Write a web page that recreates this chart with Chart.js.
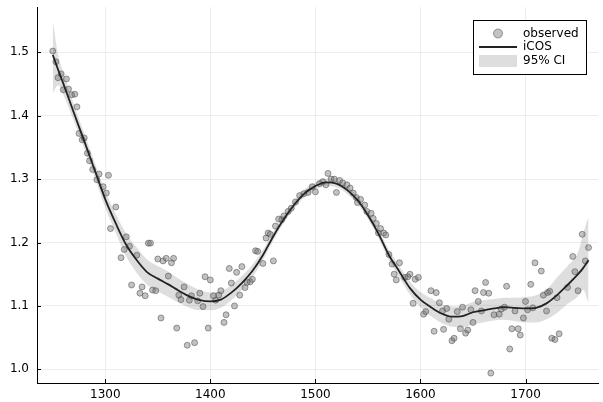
<!DOCTYPE html>
<html>
<head>
<meta charset="utf-8">
<script src="https://cdn.jsdelivr.net/npm/chart.js@4"></script>
<style>
  html, body { margin: 0; padding: 0; background: #fff; }
  #wrap { width: 603px; height: 402px; }
</style>
</head>
<body>
<div id="wrap"><canvas id="fit-chart" width="603" height="402"></canvas></div>
<script>
/*** 資料 ***/
const obsX = [1250,1253,1255,1258,1260,1263,1265,1268,1271,1273,1275,1278,1280,1283,1285,1288,1292,1294,1298,1301,
  1303,1305,1310,1315,1318,1320,1323,1325,1330,1333,1335,1338,1341,1343,1345,1348,1350,1353,1355,1358,
  1360,1363,1365,1368,1370,1372,1375,1378,1380,1382,1385,1388,1390,1393,1395,1398,1400,1403,1405,1408,
  1410,1413,1415,1418,1420,1423,1425,1428,1430,1433,1435,1438,1440,1443,1445,1450,1453,1455,1457,1460,
  1462,1465,1468,1470,1474,1477,1481,1485,1489,1493,1497,1500,1504,1507,1510,1512,1515,1518,1520,1523,
  1526,1530,1533,1536,1539,1540,1543,1547,1549,1553,1555,1558,1560,1562,1565,1567,1570,1573,1575,1577,
  1580,1585,1588,1590,1593,1595,1598,1603,1605,1610,1613,1615,1618,1621,1622,1625,1627,1630,1632,1635,
  1638,1640,1643,1645,1648,1650,1652,1655,1658,1660,1662,1665,1667,1670,1675,1677,1680,1682,1685,1687,
  1690,1693,1695,1698,1700,1702,1705,1707,1709,1715,1717,1720,1721,1723,1725,1728,1730,1732,1740,1745,
  1747,1750,1754,1757,1760];
const obsY = [1.502,1.485,1.460,1.466,1.441,1.458,1.442,1.433,1.434,1.414,1.372,1.362,1.365,1.341,1.329,1.315,1.299,1.308,1.288,1.278,
  1.306,1.222,1.256,1.176,1.189,1.209,1.194,1.133,1.180,1.120,1.130,1.116,1.199,1.199,1.125,1.124,1.174,1.081,1.171,1.175,
  1.147,1.168,1.175,1.065,1.117,1.110,1.130,1.038,1.109,1.116,1.042,1.108,1.120,1.099,1.146,1.065,1.141,1.116,1.109,1.117,
  1.124,1.074,1.086,1.159,1.136,1.100,1.153,1.117,1.162,1.129,1.137,1.138,1.142,1.187,1.186,1.167,1.207,1.215,1.213,1.171,
  1.226,1.237,1.236,1.242,1.249,1.254,1.264,1.274,1.277,1.279,1.288,1.280,1.293,1.296,1.291,1.309,1.300,1.300,1.279,1.298,
  1.294,1.291,1.286,1.278,1.271,1.263,1.268,1.259,1.249,1.246,1.238,1.230,1.215,1.222,1.215,1.212,1.181,1.166,1.150,1.141,
  1.168,1.145,1.146,1.150,1.104,1.142,1.145,1.087,1.091,1.124,1.060,1.121,1.105,1.092,1.063,1.096,1.079,1.045,1.049,1.091,
  1.064,1.098,1.057,1.062,1.094,1.074,1.124,1.107,1.092,1.121,1.137,1.120,0.994,1.086,1.087,1.095,1.098,1.131,1.032,1.064,
  1.092,1.064,1.054,1.081,1.107,1.094,1.134,1.097,1.168,1.155,1.117,1.092,1.121,1.123,1.049,1.047,1.113,1.056,1.129,1.178,
  1.154,1.124,1.213,1.171,1.192];

// iCOS 擬合曲線與 95% 信賴區間
const fitX = [1250,1255,1260,1270,1280,1290,1300,1310,1320,1330,1340,1350,1360,1370,1380,1390,1400,1410,1420,1430,
  1440,1450,1460,1470,1480,1490,1500,1510,1520,1530,1540,1550,1560,1570,1580,1590,1600,1610,1620,1630,
  1640,1650,1660,1670,1680,1690,1700,1710,1720,1730,1740,1750,1755,1760];
const fitY = [1.496,1.473,1.451,1.405,1.360,1.314,1.268,1.230,1.196,1.172,1.153,1.143,1.134,1.124,1.115,1.109,1.107,1.110,1.121,1.136,
  1.155,1.180,1.210,1.237,1.260,1.278,1.289,1.295,1.293,1.283,1.267,1.243,1.214,1.180,1.154,1.128,1.110,1.098,1.088,1.083,
  1.084,1.090,1.093,1.096,1.098,1.097,1.096,1.097,1.104,1.117,1.133,1.150,1.160,1.172];
const ciLo = [1.435,1.448,1.433,1.392,1.348,1.302,1.255,1.215,1.178,1.152,1.133,1.123,1.114,1.105,1.097,1.093,1.093,1.097,1.109,1.125,
  1.145,1.172,1.203,1.231,1.254,1.272,1.283,1.289,1.287,1.277,1.261,1.237,1.207,1.172,1.145,1.118,1.098,1.084,1.073,1.067,
  1.066,1.071,1.074,1.077,1.078,1.076,1.074,1.074,1.079,1.089,1.103,1.115,1.125,1.104];
const ciHi = [1.551,1.496,1.469,1.418,1.372,1.326,1.281,1.245,1.214,1.192,1.173,1.163,1.154,1.143,1.133,1.125,1.121,1.123,1.133,1.147,
  1.165,1.188,1.217,1.243,1.266,1.284,1.295,1.301,1.299,1.289,1.273,1.249,1.221,1.188,1.163,1.138,1.122,1.112,1.103,1.099,
  1.100,1.106,1.109,1.111,1.113,1.113,1.114,1.117,1.126,1.145,1.163,1.185,1.215,1.241];

const xTicks = [1300, 1400, 1500, 1600, 1700];
const yTicks = [1.0, 1.1, 1.2, 1.3, 1.4, 1.5];

const toPts = (xs, ys) => xs.map((x, i) => ({ x: x, y: ys[i] }));

const BAND = 'rgba(0,0,0,0.13)';
const PT_FILL = 'rgba(110,110,110,0.42)';
const PT_EDGE = 'rgba(70,70,70,0.5)';
const LINE = '#222222';
const FONT = '"DejaVu Sans", sans-serif';

/*** 內側刻度 ***/
const innerTicks = {
    id: 'innerTicks',
    afterDatasetsDraw(chart) {
        const c = chart.ctx, a = chart.chartArea;
        const xs = chart.scales.x, ys = chart.scales.y;
        c.save();
        c.strokeStyle = '#000';
        c.lineWidth = 1;
        c.beginPath();
        xTicks.forEach(v => {
            const px = Math.round(xs.getPixelForValue(v)) + 0.5;
            c.moveTo(px, a.bottom); c.lineTo(px, a.bottom - 4);
        });
        yTicks.forEach(v => {
            const py = Math.round(ys.getPixelForValue(v)) + 0.5;
            c.moveTo(a.left, py); c.lineTo(a.left + 4, py);
        });
        c.stroke();
        c.restore();
    }
};

/*** 圖例 ***/
const boxLegend = {
    id: 'boxLegend',
    afterDraw(chart) {
        const c = chart.ctx, a = chart.chartArea;
        const w = 113, h = 54;
        const x0 = a.right - 12 - w, y0 = a.top + 13;
        c.save();
        c.fillStyle = '#fff';
        c.fillRect(x0, y0, w, h);
        c.strokeStyle = '#000';
        c.lineWidth = 1;
        c.strokeRect(Math.round(x0) + 0.5, Math.round(y0) + 0.5, w, h);

        const sx = x0 + 6, ex = x0 + 44;
        // observed
        c.beginPath();
        c.arc((sx + ex) / 2, y0 + 13.5, 4.5, 0, Math.PI * 2);
        c.fillStyle = PT_FILL; c.fill();
        c.strokeStyle = PT_EDGE; c.stroke();
        // iCOS
        c.beginPath();
        c.moveTo(sx, y0 + 27); c.lineTo(ex, y0 + 27);
        c.strokeStyle = LINE; c.lineWidth = 2; c.stroke();
        // 95% CI
        c.fillStyle = BAND;
        c.fillRect(sx, y0 + 35, ex - sx, 12);

        c.fillStyle = '#000';
        c.font = '12px ' + FONT;
        c.textBaseline = 'middle';
        c.fillText('observed', x0 + 50, y0 + 13.5);
        c.fillText('iCOS', x0 + 50, y0 + 27);
        c.fillText('95% CI', x0 + 50, y0 + 41);
        c.restore();
    }
};

/*** 圖表 ***/
const ctx = document.getElementById('fit-chart').getContext('2d');
const fitChart = new Chart(ctx, {
    type: 'line',
    data: {
        datasets: [
            {
                label: '95% CI',
                data: toPts(fitX, ciHi),
                borderWidth: 0,
                pointRadius: 0,
                backgroundColor: BAND,
                fill: '+1',
                cubicInterpolationMode: 'monotone',
                order: 3
            },
            {
                label: 'ci-lo',
                data: toPts(fitX, ciLo),
                borderWidth: 0,
                pointRadius: 0,
                fill: false,
                cubicInterpolationMode: 'monotone',
                order: 3
            },
            {
                label: 'observed',
                data: toPts(obsX, obsY),
                showLine: false,
                pointRadius: 3,
                pointBorderWidth: 1,
                pointBackgroundColor: PT_FILL,
                pointBorderColor: PT_EDGE,
                order: 2
            },
            {
                label: 'iCOS',
                data: toPts(fitX, fitY),
                borderColor: LINE,
                borderWidth: 1.8,
                pointRadius: 0,
                fill: false,
                cubicInterpolationMode: 'monotone',
                order: 1
            }
        ]
    },
    options: {
        responsive: false,
        animation: false,
        layout: { padding: { top: 7, right: 0, left: 0, bottom: 0 } },
        plugins: {
            legend: { display: false },
            tooltip: { enabled: false }
        },
        scales: {
            x: {
                type: 'linear',
                min: 1235,
                max: 1769,
                afterBuildTicks: s => { s.ticks = xTicks.map(v => ({ value: v })); },
                afterFit: s => { s.height = 19; s.paddingLeft = 0; s.paddingRight = 0; },
                grid: { color: 'rgba(0,0,0,0.07)', drawTicks: false },
                border: { display: true, color: '#000', width: 1 },
                ticks: {
                    padding: 5,
                    color: '#000',
                    font: { family: FONT, size: 12 },
                    callback: v => String(v)
                }
            },
            y: {
                min: 0.9784,
                max: 1.5715,
                afterBuildTicks: s => { s.ticks = yTicks.map(v => ({ value: v })); },
                afterFit: s => { s.width = 37; s.paddingTop = 0; s.paddingBottom = 0; },
                grid: { color: 'rgba(0,0,0,0.07)', drawTicks: false },
                border: { display: true, color: '#000', width: 1 },
                ticks: {
                    padding: 8,
                    color: '#000',
                    font: { family: FONT, size: 12 },
                    callback: v => v.toFixed(1)
                }
            }
        }
    },
    plugins: [innerTicks, boxLegend]
});
</script>
</body>
</html>
